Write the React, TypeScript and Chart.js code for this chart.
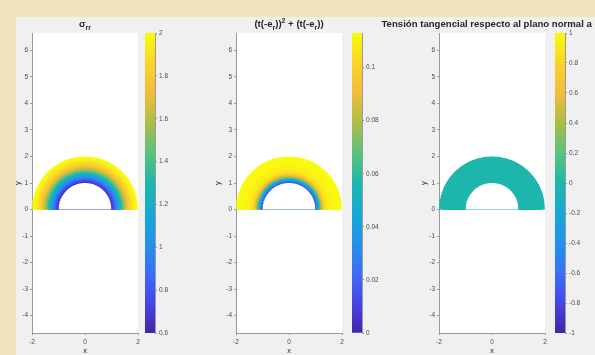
import React, { useEffect, useRef } from 'react';
import { Chart, registerables } from 'chart.js';

Chart.register(...registerables);

// ---------- data ----------
const ringRadii = [1.0, 1.05, 1.1, 1.15, 1.2, 1.25, 1.3, 1.35, 1.4, 1.45, 1.5, 1.55, 1.6, 1.65, 1.7, 1.75, 1.8, 1.85, 1.9, 1.95, 2.0];
const sigmaRRValues = [0.6, 0.67, 0.74, 0.82, 0.92, 1.02, 1.12, 1.22, 1.31, 1.41, 1.51, 1.61, 1.69, 1.76, 1.82, 1.86, 1.9, 1.93, 1.96, 1.99, 2.0];
const shearSquareValues = [0.006, 0.017, 0.032, 0.047, 0.063, 0.079, 0.09, 0.098, 0.104, 0.107, 0.108, 0.11, 0.11, 0.111, 0.111, 0.112, 0.112, 0.112, 0.112, 0.113, 0.113];
const tangentialValues = [0, 0, 0, 0, 0, 0, 0, 0, 0, 0, 0, 0, 0, 0, 0, 0, 0, 0, 0, 0, 0];

const xTickValues = [-2, 0, 2];
const yTickValues = [-4, -3, -2, -1, 0, 1, 2, 3, 4, 5, 6];
const cb1Ticks = [0.6, 0.8, 1, 1.2, 1.4, 1.6, 1.8, 2];
const cb2Ticks = [0, 0.02, 0.04, 0.06, 0.08, 0.1];
const cb3Ticks = [-1, -0.8, -0.6, -0.4, -0.2, 0, 0.2, 0.4, 0.6, 0.8, 1];

const X_RANGE = [-2, 2];
const Y_RANGE = [-4.66, 6.66];

// parula-like colormap stops [position, r, g, b]
const parula = [
  [0.0, 62, 38, 168],
  [0.1, 70, 70, 230],
  [0.2, 60, 110, 250],
  [0.3, 35, 145, 235],
  [0.4, 20, 170, 215],
  [0.5, 30, 182, 172],
  [0.6, 90, 195, 125],
  [0.7, 170, 190, 70],
  [0.8, 243, 188, 58],
  [0.9, 250, 212, 40],
  [1.0, 249, 251, 14],
];

const W = 595;
const H = 355;
const BEIGE = '#efe4bd';
const FIG = '#f0f0f0';
const FONT = '"Liberation Sans", Arial, Helvetica, sans-serif';

function cmap(t: number) {
  const u = Math.max(0, Math.min(1, t));
  for (let i = 1; i < parula.length; i++) {
    if (u <= parula[i][0]) {
      const a = parula[i - 1];
      const b = parula[i];
      const f = (u - a[0]) / (b[0] - a[0]);
      const c = [1, 2, 3].map((k) => Math.round(a[k] + (b[k] - a[k]) * f));
      return `rgb(${c[0]},${c[1]},${c[2]})`;
    }
  }
  const l = parula[parula.length - 1];
  return `rgb(${l[1]},${l[2]},${l[3]})`;
}

type Seg = { t: string; sub?: boolean; sup?: boolean };

const subplots = [
  {
    title: [{ t: 'σ' }, { t: 'rr', sub: true }] as Seg[],
    values: sigmaRRValues,
    cmin: 0.6,
    cmax: 2.0,
    cbTicks: cb1Ticks,
    axes: { L: 32, R: 138, T: 33, B: 333 },
    yW: 19,
    cb: { L: 145, R: 155 },
  },
  {
    title: [
      { t: '(t(-e' },
      { t: 'r', sub: true },
      { t: '))' },
      { t: '2', sup: true },
      { t: ' + (t(-e' },
      { t: 'r', sub: true },
      { t: '))' },
    ] as Seg[],
    values: shearSquareValues,
    cmin: 0,
    cmax: 0.113,
    cbTicks: cb2Ticks,
    axes: { L: 236, R: 342, T: 33, B: 333 },
    yW: 23,
    cb: { L: 352, R: 362 },
  },
  {
    title: [{ t: 'Tensión tangencial respecto al plano normal a e' }, { t: 'r', sub: true }] as Seg[],
    values: tangentialValues,
    cmin: -1,
    cmax: 1,
    cbTicks: cb3Ticks,
    axes: { L: 439, R: 545, T: 33, B: 333 },
    yW: 20,
    cb: { L: 555, R: 565 },
  },
];

function arcPoints(r: number) {
  const pts: { x: number; y: number }[] = [];
  for (let a = 180; a >= 0; a -= 2) {
    const t = (a * Math.PI) / 180;
    pts.push({ x: r * Math.cos(t), y: r * Math.sin(t) });
  }
  return pts;
}

const titlePlugin = {
  id: 'segTitle',
  afterDraw(chart: any, _args: any, opts: any) {
    const segs: Seg[] = opts.segments;
    if (!segs) return;
    const { ctx, chartArea } = chart;
    const base = opts.size;
    const fontFor = (s: Seg) => `bold ${s.sub || s.sup ? base * 0.72 : base}px ${FONT}`;
    ctx.save();
    let total = 0;
    segs.forEach((s) => {
      ctx.font = fontFor(s);
      total += ctx.measureText(s.t).width;
    });
    let x = (chartArea.left + chartArea.right) / 2 - total / 2;
    const y = chartArea.top - opts.offset;
    ctx.fillStyle = '#262626';
    ctx.textBaseline = 'alphabetic';
    ctx.textAlign = 'left';
    segs.forEach((s) => {
      ctx.font = fontFor(s);
      const dy = s.sub ? base * 0.3 : s.sup ? -base * 0.45 : 0;
      ctx.fillText(s.t, x, y + dy);
      x += ctx.measureText(s.t).width;
    });
    ctx.restore();
  },
};

const whiteBg = {
  id: 'whiteBg',
  beforeDraw(chart: any) {
    const { ctx, chartArea } = chart;
    ctx.save();
    ctx.fillStyle = '#ffffff';
    ctx.fillRect(chartArea.left, chartArea.top, chartArea.right - chartArea.left, chartArea.bottom - chartArea.top);
    ctx.restore();
  },
};

const tickFont = { family: FONT, size: 6.5 };
const tickColor = '#4d4d4d';
const axisColor = '#9a9a9a';

function makeMain(canvas: HTMLCanvasElement, sp: (typeof subplots)[number]) {
  const { L, R, T, B } = sp.axes;
  const xH = 22;
  const colorOf = (v: number) => cmap((v - sp.cmin) / (sp.cmax - sp.cmin));
  const datasets: any[] = ringRadii.map((r, i) => ({
    data: arcPoints(r),
    showLine: true,
    fill: 'origin',
    backgroundColor: i === 0 ? '#ffffff' : colorOf(sp.values[i]),
    borderColor: 'rgba(0,0,0,0)',
    borderWidth: 0,
    pointRadius: 0,
    tension: 0,
  }));
  return new Chart(canvas, {
    type: 'scatter',
    data: { datasets },
    plugins: [whiteBg, titlePlugin],
    options: {
      animation: false,
      responsive: false,
      events: [],
      layout: { padding: { left: L - sp.yW, right: W - R, top: T, bottom: H - B - xH } },
      plugins: {
        legend: { display: false },
        tooltip: { enabled: false },
        segTitle: { segments: sp.title, size: 9.6, offset: 6 },
      } as any,
      scales: {
        x: {
          type: 'linear',
          min: X_RANGE[0],
          max: X_RANGE[1],
          afterBuildTicks: (s: any) => {
            s.ticks = xTickValues.map((v) => ({ value: v }));
          },
          afterFit: (s: any) => {
            s.height = xH;
          },
          ticks: { font: tickFont, color: tickColor, padding: 3, maxRotation: 0, callback: (v: any) => String(v) },
          grid: { drawOnChartArea: false, drawTicks: true, tickLength: 2, color: axisColor },
          border: { display: true, color: axisColor },
          title: { display: true, text: 'x', font: { family: FONT, size: 7.5 }, color: '#262626', padding: 0 },
        },
        y: {
          type: 'linear',
          min: Y_RANGE[0],
          max: Y_RANGE[1],
          afterBuildTicks: (s: any) => {
            s.ticks = yTickValues.map((v) => ({ value: v }));
          },
          afterFit: (s: any) => {
            s.width = sp.yW;
          },
          ticks: { font: tickFont, color: tickColor, padding: 2, callback: (v: any) => String(v) },
          grid: { drawOnChartArea: false, drawTicks: true, tickLength: 2, color: axisColor },
          border: { display: true, color: axisColor },
          title: { display: true, text: 'y', font: { family: FONT, size: 7.5 }, color: '#262626', padding: 0 },
        },
      },
    } as any,
  });
}

function makeColorbar(canvas: HTMLCanvasElement, sp: (typeof subplots)[number]) {
  const { T, B } = sp.axes;
  const { L, R } = sp.cb;
  const yW = 25;
  return new Chart(canvas, {
    type: 'bar',
    data: {
      labels: [''],
      datasets: [
        {
          data: [[sp.cmin, sp.cmax]] as any,
          barPercentage: 1,
          categoryPercentage: 1,
          borderWidth: 0,
          borderSkipped: false,
          backgroundColor: (context: any) => {
            const chart = context.chart;
            if (!chart.chartArea) return 'rgba(0,0,0,0)';
            const ys = chart.scales.y;
            const g = chart.ctx.createLinearGradient(0, ys.getPixelForValue(sp.cmin), 0, ys.getPixelForValue(sp.cmax));
            parula.forEach((s) => g.addColorStop(s[0], `rgb(${s[1]},${s[2]},${s[3]})`));
            return g;
          },
        },
      ],
    },
    options: {
      animation: false,
      responsive: false,
      events: [],
      layout: { padding: { left: L, right: W - R - yW, top: T, bottom: H - B } },
      plugins: { legend: { display: false }, tooltip: { enabled: false } },
      scales: {
        x: { display: false },
        y: {
          position: 'right',
          min: sp.cmin,
          max: sp.cmax,
          afterBuildTicks: (s: any) => {
            s.ticks = sp.cbTicks.map((v) => ({ value: v }));
          },
          afterFit: (s: any) => {
            s.width = yW;
          },
          ticks: { font: tickFont, color: tickColor, padding: 2, callback: (v: any) => String(v) },
          grid: { drawOnChartArea: false, drawTicks: true, tickLength: 2, color: axisColor },
          border: { display: true, color: axisColor },
        },
      },
    } as any,
  });
}

export default function App() {
  const mainRefs = [useRef<HTMLCanvasElement>(null), useRef<HTMLCanvasElement>(null), useRef<HTMLCanvasElement>(null)];
  const cbRefs = [useRef<HTMLCanvasElement>(null), useRef<HTMLCanvasElement>(null), useRef<HTMLCanvasElement>(null)];

  useEffect(() => {
    const charts: Chart[] = [];
    subplots.forEach((sp, i) => {
      const m = mainRefs[i].current;
      const c = cbRefs[i].current;
      if (m) charts.push(makeMain(m, sp));
      if (c) charts.push(makeColorbar(c, sp));
    });
    return () => charts.forEach((ch) => ch.destroy());
  }, []);

  const canvasStyle: React.CSSProperties = { position: 'absolute', left: 0, top: 0, width: W, height: H };

  return (
    <div style={{ position: 'absolute', left: 0, top: 0, width: W, height: H, background: BEIGE, overflow: 'hidden' }}>
      <div style={{ position: 'absolute', left: 16, top: 17, right: 0, bottom: 0, background: FIG }} />
      {subplots.map((_, i) => (
        <React.Fragment key={i}>
          <canvas ref={mainRefs[i]} width={W} height={H} style={canvasStyle} />
          <canvas ref={cbRefs[i]} width={W} height={H} style={canvasStyle} />
        </React.Fragment>
      ))}
    </div>
  );
}
